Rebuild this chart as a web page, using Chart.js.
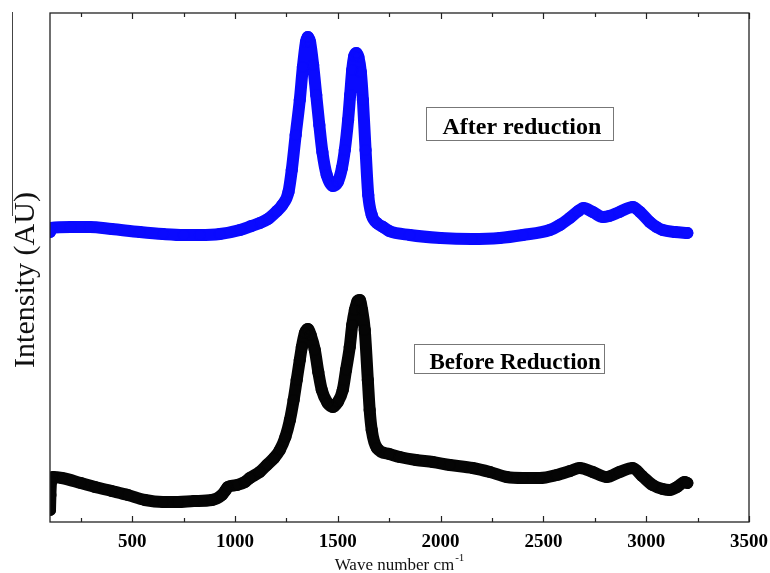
<!DOCTYPE html>
<html>
<head>
<meta charset="utf-8">
<script src="https://cdn.jsdelivr.net/npm/chart.js@4.4.1/dist/chart.umd.min.js"></script>
<style>
  html, body { margin: 0; padding: 0; background: #fff; }
  canvas { display: block; }
</style>
</head>
<body>
<canvas id="raman" width="770" height="573"></canvas>
<script>
// Raman spectra, wave number (cm-1) vs intensity (arbitrary units)
const afterWave = [100, 106, 200, 294, 400, 537, 650, 750, 829, 926, 1024, 1080, 1121, 1160, 1204, 1230, 1260, 1276, 1295, 1315, 1330, 1345, 1354, 1365, 1380, 1395, 1410, 1425, 1446, 1476, 1500, 1520, 1534, 1550, 1560, 1570, 1580, 1590, 1600, 1612, 1622, 1635, 1648, 1665, 1690, 1720, 1750, 1850, 2000, 2150, 2288, 2400, 2531, 2580, 2628, 2670, 2695, 2740, 2790, 2820, 2870, 2935, 2970, 3017, 3050, 3080, 3140, 3200];
const afterIntensity = [290, 294, 295, 295, 293, 290, 288, 287, 287, 288, 292, 296, 299, 303, 311, 317, 330, 352, 387, 422, 455, 480, 485, 480, 457, 427, 397, 370, 347, 336, 340, 354, 372, 402, 427, 452, 466, 469, 465, 450, 422, 372, 327, 307, 299, 295, 291, 287, 284, 283, 284, 287, 292, 297, 304, 311, 314, 310, 305, 306, 310, 315, 310, 300, 295, 292, 290, 289];

const beforeWave = [100, 102, 105, 115, 158, 250, 319, 400, 479, 562, 650, 722, 800, 888, 936, 955, 965, 1010, 1048, 1072, 1120, 1155, 1190, 1218, 1245, 1267, 1285, 1300, 1315, 1325, 1340, 1354, 1368, 1388, 1405, 1422, 1450, 1476, 1500, 1524, 1540, 1558, 1570, 1583, 1596, 1607, 1618, 1631, 1646, 1655, 1665, 1690, 1750, 1801, 1880, 1962, 2045, 2156, 2240, 2322, 2400, 2482, 2565, 2630, 2677, 2740, 2808, 2870, 2934, 2980, 3031, 3080, 3114, 3150, 3187, 3200];
const beforeIntensity = [12, 27, 40, 45, 44, 39, 35, 31, 27, 22, 20, 20, 21, 22, 27, 32, 35, 37, 40, 44, 50, 57, 64, 72, 85, 102, 122, 142, 162, 175, 189, 193, 187, 172, 150, 132, 119, 115, 120, 132, 152, 175, 197, 212, 221, 222, 212, 192, 142, 112, 92, 74, 68, 65, 62, 60, 57, 54, 50, 45, 44, 44, 47, 51, 54, 50, 45, 50, 54, 46, 37, 33, 32, 35, 40, 39];

const majorTicks = [500, 1000, 1500, 2000, 2500, 3000, 3500];
const minorTicks = [250, 750, 1250, 1750, 2250, 2750, 3250];

const seriesLabels = ["After reduction", "Before Reduction"];

const SERIF = "'Liberation Serif', 'Times New Roman', serif";

// boxed labels, anchored in data space (left / top of the box)
const labelBoxes = [
  { text: seriesLabels[0], x: 1928, y: 415, w: 187, h: 33, pad: 16, base: 26, size: 24 },
  { text: seriesLabels[1], x: 1870, y: 178, w: 190, h: 29, pad: 15, base: 24, size: 23 },
];

const toPoints = (xs, ys) => xs.map((x, i) => ({ x: x, y: ys[i] }));

const framePlugin = {
  id: "frame",
  afterDraw(chart) {
    const { ctx, chartArea: a, scales } = chart;
    const xs = scales.x;
    ctx.save();
    ctx.strokeStyle = "#222";
    ctx.lineWidth = 1.3;
    ctx.strokeRect(a.left, a.top, a.right - a.left, a.bottom - a.top);

    // inward ticks, top and bottom
    ctx.lineWidth = 1.2;
    const tick = (v, len) => {
      const px = Math.round(xs.getPixelForValue(v)) + 0.5;
      ctx.beginPath();
      ctx.moveTo(px, a.bottom);
      ctx.lineTo(px, a.bottom - len);
      ctx.moveTo(px, a.top);
      ctx.lineTo(px, a.top + len);
      ctx.stroke();
    };
    majorTicks.forEach((v) => tick(v, 6));
    minorTicks.forEach((v) => tick(v, 4));

    // stray rule at the far left of the figure
    ctx.strokeStyle = "#444";
    ctx.lineWidth = 1;
    ctx.beginPath();
    ctx.moveTo(12.5, 12);
    ctx.lineTo(12.5, 216);
    ctx.stroke();

    // axis titles
    ctx.fillStyle = "#111";
    ctx.font = "30px " + SERIF;
    ctx.textAlign = "center";
    ctx.textBaseline = "alphabetic";
    ctx.save();
    ctx.translate(34, 280);
    ctx.rotate(-Math.PI / 2);
    ctx.fillText("Intensity (AU)", 0, 0);
    ctx.restore();

    ctx.font = "17px " + SERIF;
    const main = "Wave number cm";
    const wMain = ctx.measureText(main).width;
    ctx.font = "11px " + SERIF;
    const sup = "-1";
    const wSup = ctx.measureText(sup).width;
    const cx = (a.left + a.right) / 2;
    const x0 = cx - (wMain + wSup + 1) / 2;
    ctx.textAlign = "left";
    ctx.font = "17px " + SERIF;
    ctx.fillText(main, x0, 570);
    ctx.font = "11px " + SERIF;
    ctx.fillText(sup, x0 + wMain + 1, 561);

    // boxed series labels
    labelBoxes.forEach((b) => {
      const left = Math.round(xs.getPixelForValue(b.x)) + 0.5;
      const top = Math.round(scales.y.getPixelForValue(b.y)) + 0.5;
      ctx.strokeStyle = "#777";
      ctx.lineWidth = 1;
      ctx.strokeRect(left, top, b.w, b.h);
      ctx.fillStyle = "#000";
      ctx.font = "bold " + b.size + "px " + SERIF;
      ctx.fillText(b.text, left + b.pad, top + b.base);
    });
    ctx.restore();
  },
};

const bandStyle = (color) => ({
  borderColor: color,
  borderWidth: 12,
  borderJoinStyle: "round",
  borderCapStyle: "round",
  cubicInterpolationMode: "monotone",
  pointRadius: 5.5,
  pointBorderWidth: 1.2,
  pointBorderColor: color,
  pointBackgroundColor: "rgba(0,0,0,0)",
  fill: false,
});

new Chart(document.getElementById("raman"), {
  type: "line",
  data: {
    datasets: [
      {
        label: seriesLabels[0],
        data: toPoints(afterWave, afterIntensity),
        ...bandStyle("#0a0aff"),
      },
      {
        label: seriesLabels[1],
        data: toPoints(beforeWave, beforeIntensity),
        ...bandStyle("#050505"),
      },
    ],
  },
  options: {
    responsive: false,
    animation: false,
    devicePixelRatio: 1,
    layout: { padding: { top: 13, right: 21, left: 0, bottom: 0 } },
    plugins: {
      legend: { display: false },
      tooltip: { enabled: false },
    },
    scales: {
      x: {
        type: "linear",
        min: 100,
        max: 3500,
        afterBuildTicks: (scale) => {
          scale.ticks = majorTicks.map((v) => ({ value: v }));
        },
        afterFit: (scale) => {
          scale.height = 51;
          scale.paddingLeft = 0;
          scale.paddingRight = 0;
        },
        grid: { display: false, drawTicks: false },
        border: { display: false },
        ticks: {
          autoSkip: false,
          maxRotation: 0,
          padding: 9,
          color: "#000",
          font: { family: SERIF, size: 19, weight: "bold" },
          callback: (v) => String(v),
        },
      },
      y: {
        min: 0,
        max: 509,
        afterFit: (scale) => {
          scale.width = 50;
          scale.paddingTop = 0;
          scale.paddingBottom = 0;
        },
        grid: { display: false, drawTicks: false },
        border: { display: false },
        ticks: { display: false },
      },
    },
  },
  plugins: [framePlugin],
});
</script>
</body>
</html>
